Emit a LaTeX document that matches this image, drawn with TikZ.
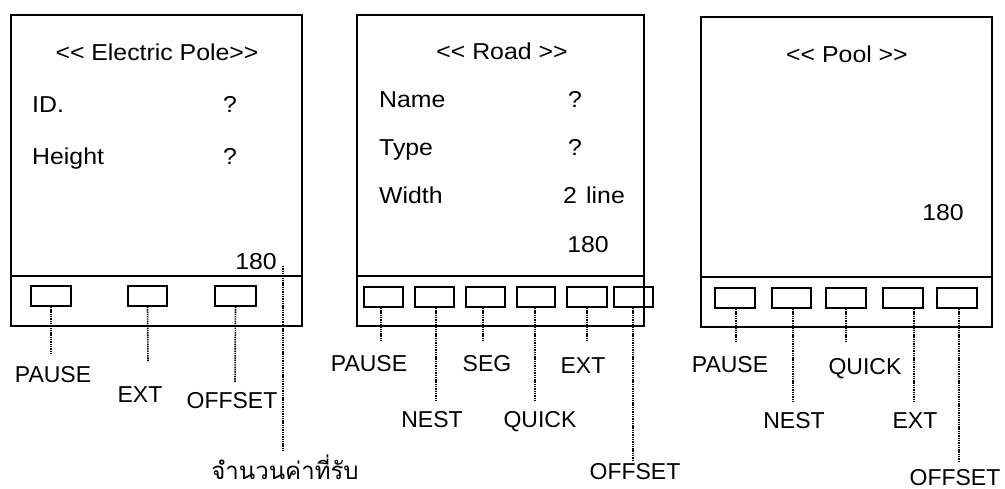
\documentclass[tikz,border=0pt]{standalone}
\usepackage{fontspec}
\setmainfont{Liberation Sans}
\newfontfamily\innerfont{Liberation Sans}[FakeStretch=1.08]
\newfontfamily\thaifont[Script=Thai]{Loma}
\newcommand{\dblLt}{<\kern0pt<}
\newcommand{\dblGt}{>\kern0pt>}
\begin{document}
\begin{tikzpicture}[x=1pt,y=-1pt,
  panel/.style={line width=1.8pt},
  btn/.style={draw,line width=1.6pt,minimum width=40pt,minimum height=20pt,inner sep=0pt},
  lead/.style={line width=1.6pt,dash pattern=on 1.4pt off 0.9pt},
  intext/.style={font=\innerfont\fontsize{23}{25}\selectfont,inner sep=0pt},
  lbl/.style={font=\fontsize{23}{25}\selectfont,inner sep=0pt,anchor=base}]
\useasboundingbox (0,0) rectangle (1005,488);

% ---------- Panel 1: Electric Pole ----------
\draw[panel] (11,15) rectangle (302,326);
\draw[panel] (11,276) -- (302,276);
\node[intext,anchor=base] (t1) at (157,60) {\dblLt{} Electric Pole\dblGt};
\node[intext,anchor=base west] (id) at (32,112) {ID.};
\node[intext,anchor=base] (idq) at (230,112) {?};
\node[intext,anchor=base west] (hg) at (32,164) {Height};
\node[intext,anchor=base] (hgq) at (230,164) {?};
\node[intext,anchor=base east] (n1) at (277,269) {180};
\node[btn,minimum width=40pt] (a1) at (51,296) {};
\node[btn,minimum width=39pt] (a2) at (147.5,296) {};
\node[btn,minimum width=41pt] (a3) at (235.5,296) {};
\node[lbl] (la1) at (53,382) {PAUSE};
\node[lbl] (la2) at (140,402) {EXT};
\node[lbl] (la3) at (232,408) {OFFSET};
\node[lbl,font=\thaifont\fontsize{24}{26}\selectfont] (la4) at (285,479) {จำนวนค่าที่รับ};
\coordinate (e1) at (51,353);
\coordinate (e2) at (148,362);
\coordinate (e3) at (235,382);
\coordinate (s4) at (283,266);
\coordinate (e4) at (283,452);
\draw[lead] (a1.south) -- (e1);
\draw[lead] (a2.south) -- (e2);
\draw[lead] (a3.south) -- (e3);
\draw[lead] (s4) -- (e4);

% ---------- Panel 2: Road ----------
\draw[panel] (357,15) rectangle (644,326);
\draw[panel] (357,276) -- (644,276);
\node[intext,anchor=base] (t2) at (502,59) {\dblLt{} Road \dblGt};
\node[intext,anchor=base west] (nm) at (379,107) {Name};
\node[intext,anchor=base] (nmq) at (575,107) {?};
\node[intext,anchor=base west] (tp) at (379,155) {Type};
\node[intext,anchor=base] (tpq) at (575,155) {?};
\node[intext,anchor=base west] (wd) at (379,203) {Width};
\node[intext,anchor=base west] (wdv) at (563,203) {2\hspace{0.4em}line};
\node[intext,anchor=base] (n2) at (588,252) {180};
\node[btn,minimum width=39pt] (b1) at (383.5,297) {};
\node[btn,minimum width=39pt] (b2) at (434.5,297) {};
\node[btn,minimum width=39pt] (b3) at (485.5,297) {};
\node[btn,minimum width=38pt] (b4) at (536,297) {};
\node[btn,minimum width=40pt] (b5) at (587,297) {};
\node[btn,minimum width=39pt] (b6) at (633.5,297) {};
\node[lbl] (lb1) at (369,371) {PAUSE};
\node[lbl] (lb2) at (432,427) {NEST};
\node[lbl] (lb3) at (487,371) {SEG};
\node[lbl] (lb4) at (540,427) {QUICK};
\node[lbl] (lb5) at (583,373) {EXT};
\node[lbl] (lb6) at (635,479) {OFFSET};
\coordinate (f1) at (381,342);
\coordinate (f2) at (436,400);
\coordinate (f3) at (483,342);
\coordinate (f4) at (535,400);
\coordinate (f5) at (587,342);
\coordinate (f6) at (633,460);
\draw[lead] (b1.south -| f1) -- (f1);
\draw[lead] (b2.south -| f2) -- (f2);
\draw[lead] (b3.south -| f3) -- (f3);
\draw[lead] (b4.south -| f4) -- (f4);
\draw[lead] (b5.south -| f5) -- (f5);
\draw[lead] (b6.south -| f6) -- (f6);

% ---------- Panel 3: Pool ----------
\draw[panel] (701,17) rectangle (992,327);
\draw[panel] (701,277) -- (992,277);
\node[intext,anchor=base] (t3) at (847,62) {\dblLt{} Pool \dblGt};
\node[intext,anchor=base] (n3) at (943,220) {180};
\node[btn,minimum width=40pt] (c1) at (735,298) {};
\node[btn,minimum width=39pt] (c2) at (791.5,298) {};
\node[btn,minimum width=40pt] (c3) at (846,298) {};
\node[btn,minimum width=40pt] (c4) at (903,298) {};
\node[btn,minimum width=40pt] (c5) at (957,298) {};
\node[lbl] (lc1) at (730,372) {PAUSE};
\node[lbl] (lc2) at (794,428) {NEST};
\node[lbl] (lc3) at (865,374) {QUICK};
\node[lbl] (lc4) at (915,428) {EXT};
\node[lbl] (lc5) at (955,485) {OFFSET};
\coordinate (g1) at (736,343);
\coordinate (g2) at (793,402);
\coordinate (g3) at (846,343);
\coordinate (g4) at (914,402);
\coordinate (g5) at (959,462);
\draw[lead] (c1.south -| g1) -- (g1);
\draw[lead] (c2.south -| g2) -- (g2);
\draw[lead] (c3.south -| g3) -- (g3);
\draw[lead] (c4.south -| g4) -- (g4);
\draw[lead] (c5.south -| g5) -- (g5);
\end{tikzpicture}
\end{document}
